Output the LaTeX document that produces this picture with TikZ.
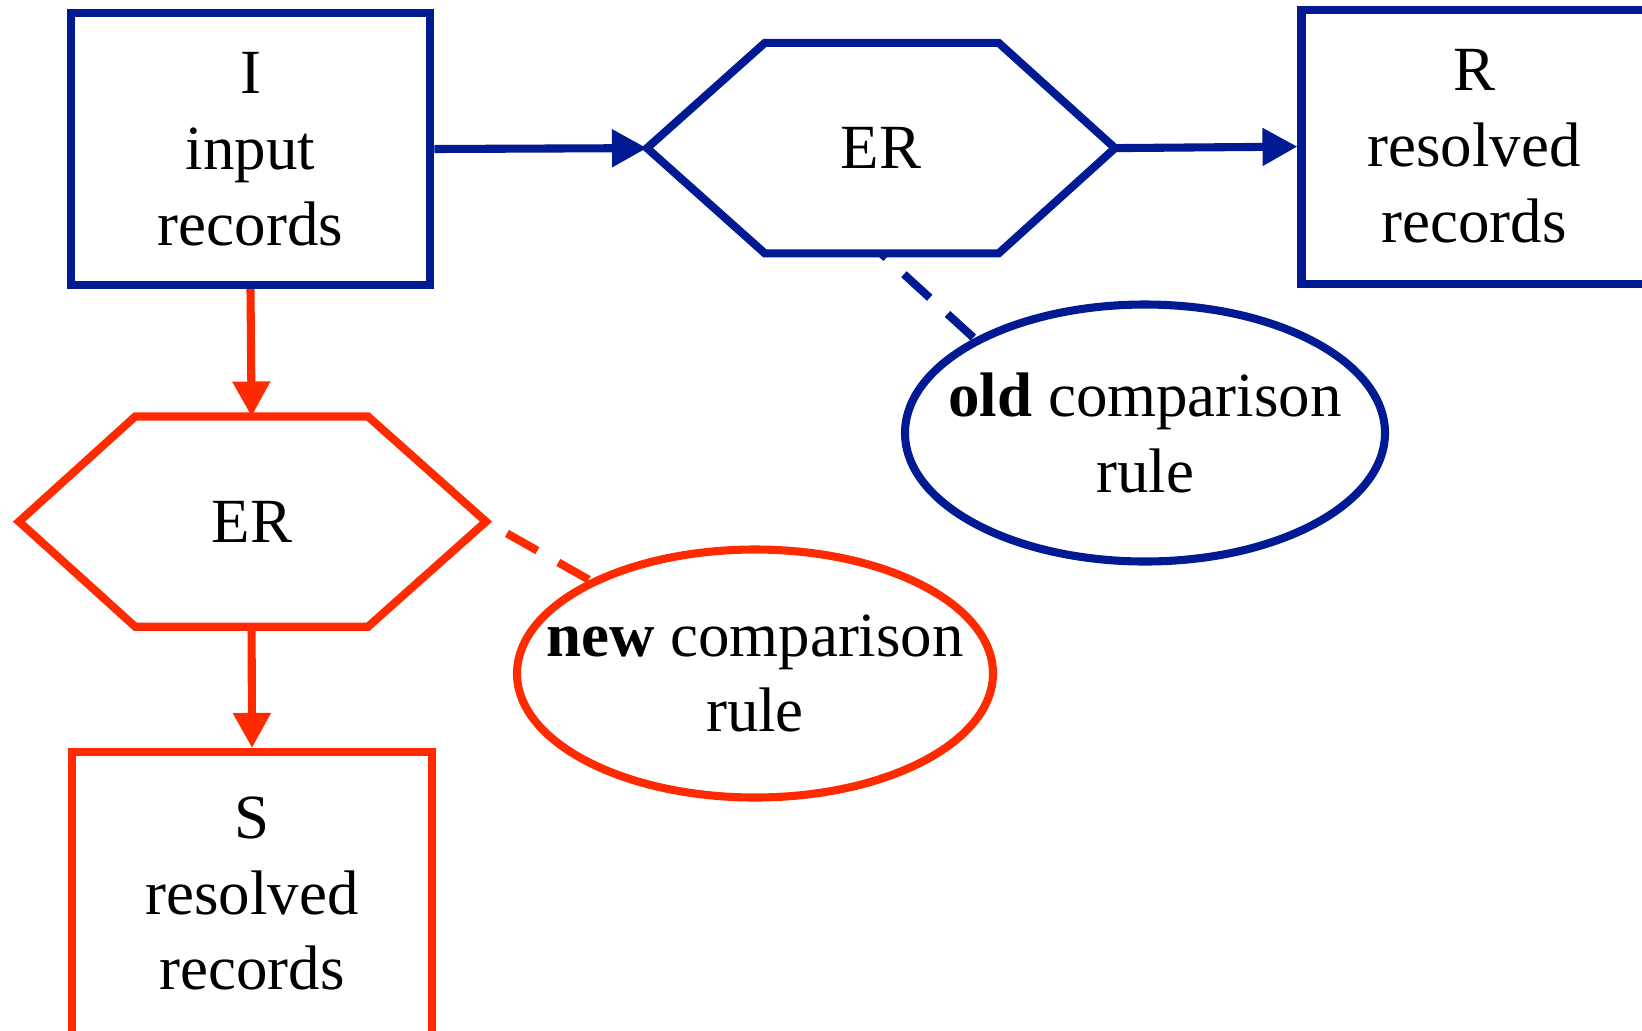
\documentclass[tikz,border=0pt]{standalone}
\usepackage{fontspec}
\setmainfont{Liberation Serif}
\usetikzlibrary{arrows.meta,shapes.geometric}
\definecolor{erblue}{RGB}{0,26,148}
\definecolor{erred}{RGB}{255,42,0}

\begin{document}
\begin{tikzpicture}[
  line width=2.3pt,
  txt/.style={align=center, text=black, font=\fontsize{17.9}{21.6}\selectfont},
  recbox/.style={draw=#1, txt, minimum width=3.595cm, minimum height=2.72cm, inner sep=0pt},
  rulebox/.style={draw=#1, ellipse, inner sep=0pt},
  flow/.style={-{Triangle[length=0.35cm,width=0.36cm]}},
  link/.style={dash pattern=on 0.35cm off 0.24cm}
]
\useasboundingbox (0,0) rectangle (16.42,-10.30);

% old rule (blue)
\node[recbox=erblue] (inp) at (2.505,-1.49) {I\\input\\records};
\coordinate (erA-w) at (6.47,-1.481);
\coordinate (erA-nw) at (7.648,-0.429);
\coordinate (erA-ne) at (9.987,-0.429);
\coordinate (erA-e) at (11.15,-1.481);
\coordinate (erA-se) at (9.987,-2.533);
\coordinate (erA-sw) at (7.648,-2.533);
\coordinate (erA-s) at (8.810,-2.533);
\draw[erblue] (erA-w) -- (erA-nw) -- (erA-ne) -- (erA-e) -- (erA-se) -- (erA-sw) -- cycle;
\node[txt] (erA) at (8.81,-1.481) {ER};
\node[recbox=erblue, minimum width=3.45cm, minimum height=2.74cm] (res) at (14.74,-1.466) {R\\resolved\\records};
\node[rulebox=erblue, minimum width=4.80cm, minimum height=2.57cm] (oldrule) at (11.45,-4.33) {};
\node[txt] (oldtxt) at (oldrule) {\textbf{old} comparison\\rule};

\draw[erblue, flow] (inp.east) -- (erA-w);
\draw[erblue, flow] (erA-e) -- (res.west);
\draw[erblue, link, dash phase=0.28cm] (erA-s) -- (oldrule.151);

% new rule (red)
\coordinate (erB-w) at (0.19,-5.216);
\coordinate (erB-nw) at (1.352,-4.165);
\coordinate (erB-ne) at (3.680,-4.165);
\coordinate (erB-e) at (4.86,-5.216);
\coordinate (erB-se) at (3.680,-6.267);
\coordinate (erB-sw) at (1.352,-6.267);
\coordinate (erB-n) at (2.516,-4.165);
\coordinate (erB-s) at (2.516,-6.267);
\draw[erred] (erB-w) -- (erB-nw) -- (erB-ne) -- (erB-e) -- (erB-se) -- (erB-sw) -- cycle;
\node[txt] (erB) at (2.519,-5.216) {ER};
\node[recbox=erred, minimum height=2.83cm] (sres) at (2.52,-8.935) {S\\resolved\\records};
\node[rulebox=erred, minimum width=4.76cm, minimum height=2.48cm] (newrule) at (7.55,-6.735) {};
\node[txt] (newtxt) at (newrule) {\textbf{new} comparison\\rule};

\draw[erred, flow] (inp.south) -- (erB-n);
\draw[erred, flow] (erB-s) -- (sres.north);
\draw[erred, link, dash phase=0.35cm] (erB-e) -- (newrule);
\end{tikzpicture}
\end{document}
